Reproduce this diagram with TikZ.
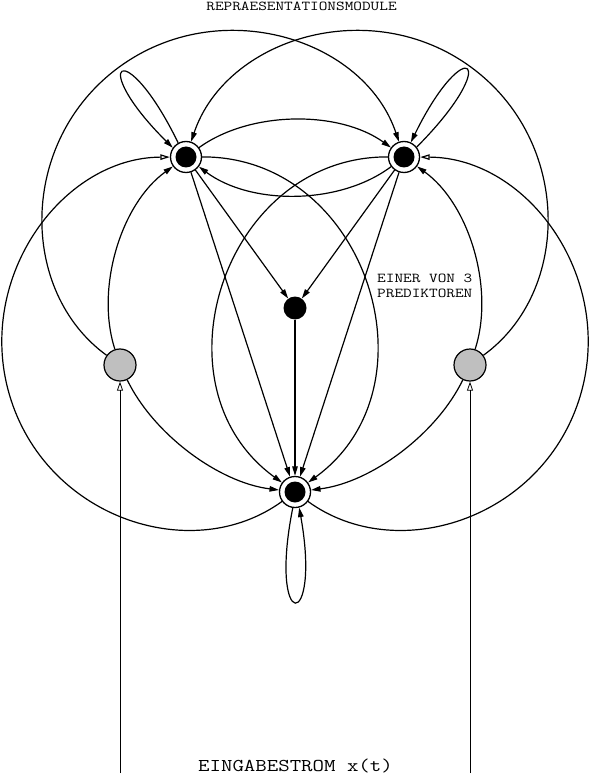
\documentclass[tikz,border=0pt]{standalone}
\usepackage{fontspec}
\usepackage{graphicx}
\usetikzlibrary{arrows.meta}
\newcommand{\widetext}[1]{\scalebox{1.235}[1]{#1}}
\begin{document}
\begin{tikzpicture}[x=1pt,y=-1pt,
  rep/.style={circle, draw, line width=1.3pt, fill=white, inner sep=0pt, minimum size=31pt,
    path picture={\fill[black] (path picture bounding box.center) circle[radius=10.5pt];}},
  pred/.style={circle, fill=black, inner sep=0pt, minimum size=23pt},
  inp/.style={circle, draw, line width=1.2pt, fill=gray!50, inner sep=0pt, minimum size=32pt},
  conn/.style={line width=1.2pt, -{Triangle[length=9.5pt,width=5.5pt]}},
  oconn/.style={line width=1.2pt, -{Triangle[open,length=9.5pt,width=5.5pt]}},
  feed/.style={line width=0.8pt, -{Triangle[open,length=9pt,width=6pt]}},
  lbl/.style={inner sep=0pt, font=\ttfamily\fontsize{13.6}{15}\selectfont},
  biglbl/.style={inner sep=0pt, font=\ttfamily\fontsize{18}{20}\selectfont},
]
\useasboundingbox[fill=white] (0,0) rectangle (588,775);

% nodes
\node[rep] (A) at (186,157) {};
\node[rep] (B) at (404,157) {};
\node[rep] (C) at (295,492) {};
\node[pred] (P) at (295,308) {};
\node[inp] (L) at (120,365) {};
\node[inp] (R) at (470,365) {};

% texts
\node[lbl, anchor=base] (title) at (301.5,10.5) {\widetext{REPRAESENTATIONSMODULE}};
\node[lbl, anchor=base west] (pl1) at (377,282) {\widetext{EINER VON 3}};
\node[lbl, anchor=base west] (pl2) at (377,297) {\widetext{PREDIKTOREN}};
\node[biglbl, anchor=base] (inlbl) at (295.5,771) {\widetext{EINGABESTROM x(t)}};

% helper coordinates on the large arcs
\coordinate (mA) at (11.2,400.5);
\coordinate (mB) at (578.8,400.5);
\coordinate (mL) at (118.8,67.3);
\coordinate (mR) at (471.2,67.3);
\coordinate (fL) at (120,773);
\coordinate (fR) at (470,773);

% self loops
\draw[conn] (A.119) .. controls (124.8,33.2) and (86.2,61.8) .. (A.145);
\draw[conn] (B.38) .. controls (504.2,59.1) and (465.4,31) .. (B.65);
\draw[conn] (C.262) .. controls (267.7,633.4) and (321.7,633.4) .. (C.285);

% A <-> B
\draw[conn] (A) .. controls (250.6,110.4) and (339.4,110.4) .. (B);
\draw[conn] (B) .. controls (339.5,205.3) and (250.5,205.3) .. (A);

% inner arcs to C
\draw[conn] (A) .. controls (365.9,156.1) and (440.5,386.4) .. (C);
\draw[conn] (B) .. controls (224.1,156.1) and (149.5,386.4) .. (C);

% outer arcs from C
\draw[oconn] (C) .. controls (193.6,565.6) and (50.2,519.7) .. (mA)
             .. controls (-27.8,281.3) and (60.6,157.6) .. (A);
\draw[oconn] (C) .. controls (396.4,565.6) and (539.8,519.7) .. (mB)
             .. controls (617.8,281.3) and (529.4,157.6) .. (B);

% arcs from the input nodes
\draw[conn] (L) .. controls (18.7,291.6) and (18,141.4) .. (mL)
            .. controls (219.6,-6.8) and (364.3,38.4) .. (B);
\draw[conn] (L) .. controls (95.2,288.5) and (120.8,204) .. (A);
\draw[conn] (L) .. controls (153.5,434.2) and (218.7,482.5) .. (C);
\draw[conn] (R) .. controls (571.3,291.6) and (572,141.4) .. (mR)
            .. controls (370.4,-6.8) and (225.7,38.4) .. (A);
\draw[conn] (R) .. controls (494.8,288.5) and (469.2,204) .. (B);
\draw[conn] (R) .. controls (436.5,434.2) and (371.3,482.5) .. (C);

% straight connectors
\draw[conn] (A) -- (P);
\draw[conn] (B) -- (P);
\draw[conn] (P) -- (C);
\draw[conn] (A) -- (C);
\draw[conn] (B) -- (C);

% input streams
\draw[feed] (fL) -- (L);
\draw[feed] (fR) -- (R);
\end{tikzpicture}
\end{document}
